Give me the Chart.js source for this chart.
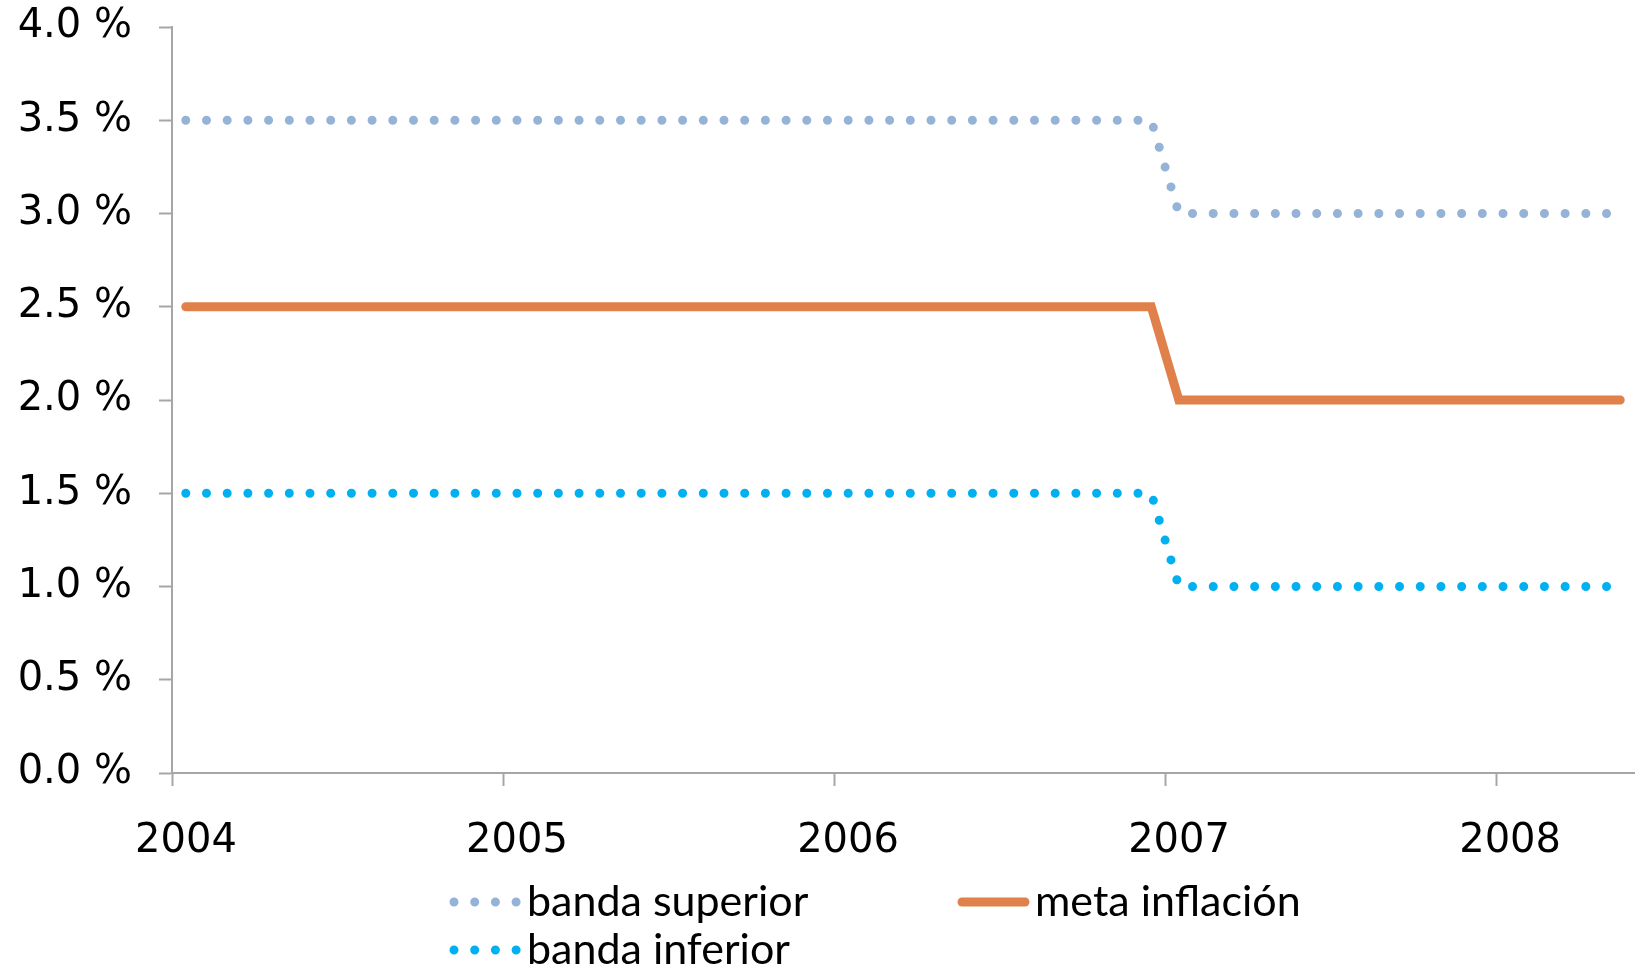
<!DOCTYPE html>
<html>
<head>
<meta charset="utf-8">
<script src="https://cdn.jsdelivr.net/npm/chart.js@4/dist/chart.umd.min.js"></script>
<style>
  html, body { margin: 0; padding: 0; background: #fff; }
  #wrap { width: 1641px; height: 969px; }
</style>
</head>
<body>
<div id="wrap"><canvas id="metas"></canvas></div>
<script>
// monthly observations, Jan 2004 - May 2008
const meses = [
  '2004-01','2004-02','2004-03','2004-04','2004-05','2004-06','2004-07','2004-08','2004-09','2004-10','2004-11','2004-12',
  '2005-01','2005-02','2005-03','2005-04','2005-05','2005-06','2005-07','2005-08','2005-09','2005-10','2005-11','2005-12',
  '2006-01','2006-02','2006-03','2006-04','2006-05','2006-06','2006-07','2006-08','2006-09','2006-10','2006-11','2006-12',
  '2007-01','2007-02','2007-03','2007-04','2007-05','2007-06','2007-07','2007-08','2007-09','2007-10','2007-11','2007-12',
  '2008-01','2008-02','2008-03','2008-04','2008-05'
];
const bandaSuperior = [
  3.5,3.5,3.5,3.5,3.5,3.5,3.5,3.5,3.5,3.5,3.5,3.5,
  3.5,3.5,3.5,3.5,3.5,3.5,3.5,3.5,3.5,3.5,3.5,3.5,
  3.5,3.5,3.5,3.5,3.5,3.5,3.5,3.5,3.5,3.5,3.5,3.5,
  3.0,3.0,3.0,3.0,3.0,3.0,3.0,3.0,3.0,3.0,3.0,3.0,
  3.0,3.0,3.0,3.0,3.0
];
const metaInflacion = [
  2.5,2.5,2.5,2.5,2.5,2.5,2.5,2.5,2.5,2.5,2.5,2.5,
  2.5,2.5,2.5,2.5,2.5,2.5,2.5,2.5,2.5,2.5,2.5,2.5,
  2.5,2.5,2.5,2.5,2.5,2.5,2.5,2.5,2.5,2.5,2.5,2.5,
  2.0,2.0,2.0,2.0,2.0,2.0,2.0,2.0,2.0,2.0,2.0,2.0,
  2.0,2.0,2.0,2.0,2.0
];
const bandaInferior = [
  1.5,1.5,1.5,1.5,1.5,1.5,1.5,1.5,1.5,1.5,1.5,1.5,
  1.5,1.5,1.5,1.5,1.5,1.5,1.5,1.5,1.5,1.5,1.5,1.5,
  1.5,1.5,1.5,1.5,1.5,1.5,1.5,1.5,1.5,1.5,1.5,1.5,
  1.0,1.0,1.0,1.0,1.0,1.0,1.0,1.0,1.0,1.0,1.0,1.0,
  1.0,1.0,1.0,1.0,1.0
];
const anios = [2004, 2005, 2006, 2007, 2008];

// a month sits in the middle of its slot on the year axis
function mesAX(m) {
  const [y, mo] = m.split('-').map(Number);
  return y + (mo - 0.5) / 12;
}
function serie(vals) {
  return vals.map((v, i) => ({x: mesAX(meses[i]), y: v}));
}

const axisColor = '#a6a6a6';
const axisFont = {family: 'DejaVu Sans', size: 40};

// legend laid out by hand: two items on the first row, one below
const legendPos = [
  {x: 450, y: 902},
  {x: 958, y: 902},
  {x: 450, y: 950}
];
const legendaManual = {
  id: 'legendaManual',
  afterDraw(chart) {
    const ctx = chart.ctx;
    chart.data.datasets.forEach((ds, i) => {
      const p = legendPos[i];
      ctx.save();
      ctx.strokeStyle = ds.borderColor;
      ctx.lineWidth = ds.borderWidth;
      ctx.lineCap = 'round';
      ctx.setLineDash(ds.borderDash || []);
      ctx.beginPath();
      ctx.moveTo(p.x + 4, p.y);
      ctx.lineTo(p.x + 67, p.y);
      ctx.stroke();
      ctx.setLineDash([]);
      ctx.fillStyle = '#000';
      ctx.font = '43px Lato';
      ctx.textBaseline = 'middle';
      ctx.fillText(ds.label, p.x + 77, p.y);
      ctx.restore();
    });
  }
};

const dotted = [0, 20.7];

new Chart(document.getElementById('metas'), {
  type: 'line',
  data: {
    datasets: [
      {
        label: 'banda superior',
        data: serie(bandaSuperior),
        borderColor: '#95b3d7',
        borderWidth: 9,
        borderDash: dotted,
        borderCapStyle: 'round'
      },
      {
        label: 'meta inflación',
        data: serie(metaInflacion),
        borderColor: '#e0804a',
        borderWidth: 9,
        borderCapStyle: 'round',
        borderJoinStyle: 'miter'
      },
      {
        label: 'banda inferior',
        data: serie(bandaInferior),
        borderColor: '#00b0f0',
        borderWidth: 9,
        borderDash: dotted,
        borderCapStyle: 'round'
      }
    ]
  },
  options: {
    responsive: true,
    maintainAspectRatio: false,
    animation: false,
    elements: {
      point: {radius: 0, hoverRadius: 0},
      line: {tension: 0}
    },
    layout: {
      padding: {left: 0, right: 7, top: 27, bottom: 106}
    },
    plugins: {
      legend: {display: false},
      tooltip: {enabled: false}
    },
    scales: {
      x: {
        type: 'linear',
        min: anios[0],
        max: anios[0] + meses.length / 12,
        afterBuildTicks: (s) => { s.ticks = anios.map(v => ({value: v})); },
        afterFit: (s) => { s.height = 90; },
        ticks: {
          color: '#000',
          font: axisFont,
          padding: 32,
          labelOffset: 14,
          maxRotation: 0,
          callback: (v) => String(v)
        },
        grid: {
          drawOnChartArea: false,
          drawTicks: true,
          tickLength: 13,
          tickWidth: 2,
          color: axisColor
        },
        border: {display: true, color: axisColor, width: 2}
      },
      y: {
        min: 0,
        max: 4,
        afterFit: (s) => { s.width = 172; s.paddingTop = 0; },
        ticks: {
          stepSize: 0.5,
          color: '#000',
          font: axisFont,
          padding: 27,
          callback: (v) => v.toFixed(1) + ' %'
        },
        grid: {
          drawOnChartArea: false,
          drawTicks: true,
          tickLength: 13,
          tickWidth: 2,
          color: axisColor
        },
        border: {display: true, color: axisColor, width: 2}
      }
    }
  },
  plugins: [legendaManual]
});
</script>
</body>
</html>
